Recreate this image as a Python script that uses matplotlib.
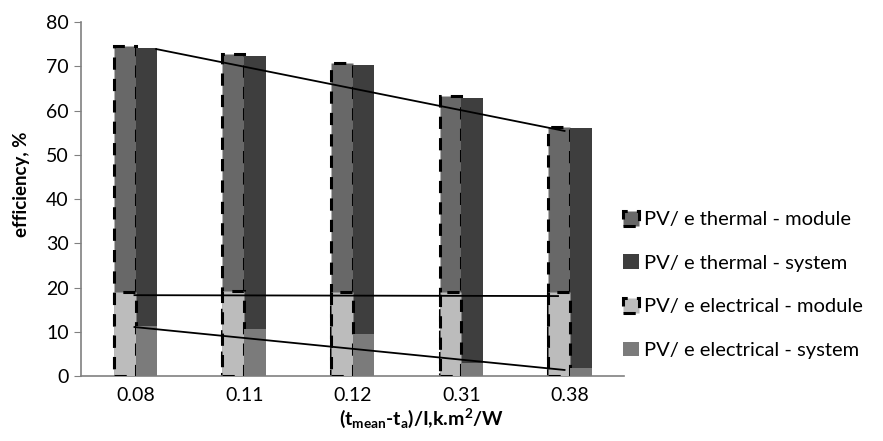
import numpy as np
import matplotlib
matplotlib.use("Agg")
import matplotlib.pyplot as plt

plt.rcParams['font.family'] = ['Lato', 'DejaVu Sans']
plt.rcParams['mathtext.default'] = 'regular'

# data
categories = ["0.08", "0.11", "0.12", "0.31", "0.38"]
thermal_module = [74.6, 72.7, 70.7, 63.3, 56.3]
thermal_system = [74.2, 72.3, 70.3, 62.8, 56.1]
electrical_module = [19.0, 19.2, 19.0, 19.0, 19.0]
electrical_system = [11.3, 10.6, 9.6, 2.9, 1.8]

# trendline end points (category position, value)
trend_thermal = ([0.19, 3.95], [73.9, 55.4])
trend_el_module = ([-0.01, 3.89], [18.3, 18.1])
trend_el_system = ([-0.01, 3.95], [11.1, 1.4])

c_tm = "#686868"
c_ts = "#3e3e3e"
c_em = "#bcbcbc"
c_es = "#7b7b7b"

fig = plt.figure(figsize=(8.83, 4.41), dpi=100)
ax = fig.add_axes([0.092, 0.147, 0.615, 0.803])

x = np.arange(len(categories))
w = 0.2

b1 = ax.bar(x - w / 2, thermal_module, w, color=c_tm, edgecolor="black",
            linestyle=(0, (4, 3)), linewidth=2.2, label="PV/ e thermal - module", zorder=2)
b2 = ax.bar(x + w / 2, thermal_system, w, color=c_ts, linewidth=0,
            label="PV/ e thermal - system", zorder=2)
b3 = ax.bar(x - w / 2, electrical_module, w, color=c_em, edgecolor="black",
            linestyle=(0, (4, 3)), linewidth=2.2, label="PV/ e electrical - module", zorder=3)
b4 = ax.bar(x + w / 2, electrical_system, w, color=c_es, linewidth=0,
            label="PV/ e electrical - system", zorder=3)

for tx, ty in (trend_thermal, trend_el_module, trend_el_system):
    ax.plot(tx, ty, color="black", linewidth=1.3, zorder=4)

ax.set_xlim(-0.5, len(categories) - 0.5)
ax.set_ylim(0, 80)
ax.set_yticks(range(0, 81, 10))
ax.set_xticks(x)
ax.set_xticklabels(categories)
ax.tick_params(axis="y", length=5, color="#808080", labelsize=14, pad=4)
ax.tick_params(axis="x", length=0, labelsize=14, pad=8)

for s in ["top", "right"]:
    ax.spines[s].set_visible(False)
for s in ["left", "bottom"]:
    ax.spines[s].set_color("#808080")
    ax.spines[s].set_linewidth(1.2)

ax.set_ylabel("efficiency, %", fontsize=13.5, fontweight="bold")
ax.yaxis.set_label_coords(-0.094, 0.542)
ax.set_xlabel(r"(t$_{mean}$-t$_{a}$)/I,k.m$^{2}$/W", fontsize=14, fontweight="bold")
ax.xaxis.set_label_coords(0.627, -0.085)

fig.legend(handles=[b1, b2, b3, b4], loc="center left", bbox_to_anchor=(0.706, 0.354),
           frameon=False, fontsize=14.5, handlelength=0.75, handleheight=0.75,
           handletextpad=0.25, labelspacing=1.3, borderpad=0, borderaxespad=0)

fig.savefig("out.png", dpi=100)
